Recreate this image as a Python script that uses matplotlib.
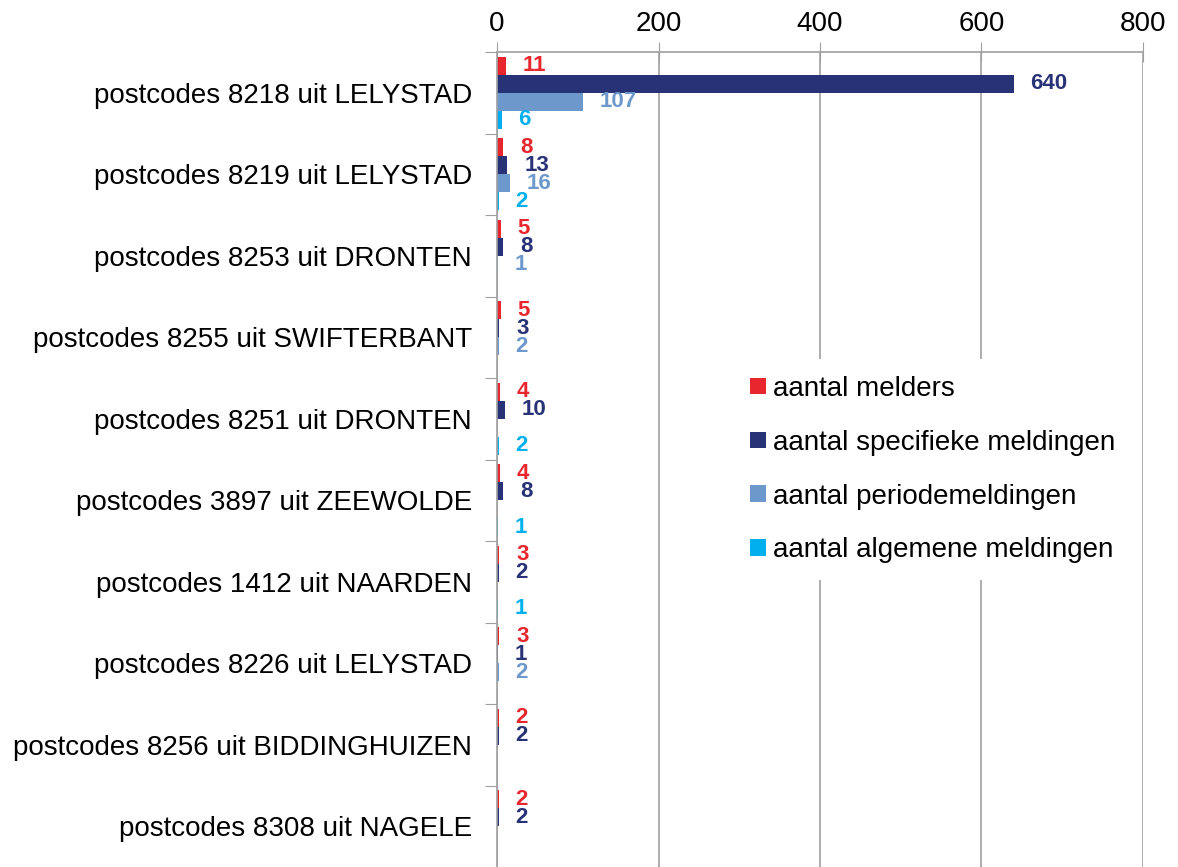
import matplotlib
matplotlib.use("Agg")
import matplotlib.pyplot as plt
from matplotlib import font_manager
import numpy as np

plt.rcParams['font.family'] = ['Liberation Sans', 'DejaVu Sans']

categories = [
    "postcodes 8218 uit LELYSTAD",
    "postcodes 8219 uit LELYSTAD",
    "postcodes 8253 uit DRONTEN",
    "postcodes 8255 uit SWIFTERBANT",
    "postcodes 8251 uit DRONTEN",
    "postcodes 3897 uit ZEEWOLDE",
    "postcodes 1412 uit NAARDEN",
    "postcodes 8226 uit LELYSTAD",
    "postcodes 8256 uit BIDDINGHUIZEN",
    "postcodes 8308 uit NAGELE",
]
melders = [11, 8, 5, 5, 4, 4, 3, 3, 2, 2]
specifiek = [640, 13, 8, 3, 10, 8, 2, 1, 2, 2]
periode = [107, 16, 1, 2, 0, 0, 0, 2, 0, 0]
algemeen = [6, 2, 0, 0, 2, 1, 1, 0, 0, 0]

series = [
    ("aantal melders", melders, "#E8262D"),
    ("aantal specifieke meldingen", specifiek, "#283276"),
    ("aantal periodemeldingen", periode, "#6C98CC"),
    ("aantal algemene meldingen", algemeen, "#00B0EE"),
]
xticks = [0, 200, 400, 600, 800]

names = {f.name for f in font_manager.fontManager.ttflist}
tick_family = ['Liberation Sans Narrow'] if 'Liberation Sans Narrow' in names else ['Liberation Sans']

fig = plt.figure(figsize=(11.78, 8.67), dpi=100)
ax = fig.add_axes([497/1178, 0.0, (1143-497)/1178, 1 - 52/867])

n = len(categories)
y = np.arange(n)
bh = 0.22
for i, (name, vals, col) in enumerate(series):
    pos = y + (i - 1.5) * bh
    bars = ax.barh(pos, vals, height=bh, color=col, label=name, zorder=3)
    for b, v in zip(bars, vals):
        if v > 0:
            ax.annotate(str(v), (v, b.get_y() + b.get_height()/2),
                        xytext=(12, 0), textcoords="offset points",
                        ha="left", va="center", fontsize=16,
                        fontweight="bold", color=col, zorder=4)

ax.set_ylim(n - 0.5, -0.5)
ax.set_xlim(0, 800)
ax.set_xticks(xticks)
ax.set_xticklabels([str(t) for t in xticks], family=tick_family, fontsize=20)
ax.xaxis.tick_top()
ax.set_yticks(np.arange(n + 1) - 0.5, minor=False)
ax.set_yticklabels([])
ax.set_yticks(y, minor=True)
ax.set_yticklabels(categories, minor=True, fontsize=20)
ax.tick_params(axis='y', which='major', length=9, color='#A0A0A0', direction='out')
ax.tick_params(axis='y', which='minor', length=0, pad=18)
ax.tick_params(axis='x', which='major', length=14, color='#A0A0A0', direction='inout',
               pad=4)

ax.grid(axis='x', color='#A0A0A0', linewidth=1.2, zorder=0)
for s in ['right', 'bottom']:
    ax.spines[s].set_visible(False)
for s in ['top', 'left']:
    ax.spines[s].set_color('#A0A0A0')
    ax.spines[s].set_linewidth(1.2)
    ax.spines[s].set_zorder(5)

leg = ax.legend(loc='upper left', bbox_to_anchor=(0.345, 0.64), frameon=True,
                fontsize=20, handlelength=0.55, handleheight=0.55,
                handletextpad=0.25, labelspacing=1.0, borderpad=0.6)
leg.get_frame().set_facecolor('white')
leg.get_frame().set_edgecolor('none')
leg.get_frame().set_alpha(1)
leg.set_zorder(6)

fig.savefig("out.png", dpi=100)
